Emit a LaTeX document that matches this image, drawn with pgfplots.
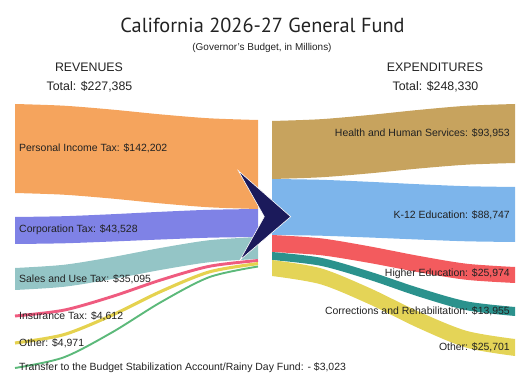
\documentclass[border=0pt]{standalone}
\usepackage{fontspec}
\setmainfont{Liberation Sans}
\newfontfamily\titlefont{PT Sans}
\usepackage{pgfplots}
\pgfplotsset{compat=1.18}
\usepgfplotslibrary{fillbetween}
\definecolor{cPIT}{HTML}{F5A45D}
\definecolor{cCorp}{HTML}{7F82E6}
\definecolor{cSales}{HTML}{94C5C6}
\definecolor{cIns}{HTML}{EF5B7F}
\definecolor{cOthR}{HTML}{E5D24F}
\definecolor{cTrans}{HTML}{5CB97A}
\definecolor{cHHS}{HTML}{C7A35E}
\definecolor{cK}{HTML}{7DB5EB}
\definecolor{cHigh}{HTML}{F35B5E}
\definecolor{cCorr}{HTML}{2B928D}
\definecolor{cOthE}{HTML}{E4D457}
\definecolor{cArrow}{HTML}{1B1A5B}
\definecolor{txt}{HTML}{222222}
\begin{document}
\begin{tikzpicture}
\begin{axis}[width=529bp, height=389bp, scale only axis,
  xmin=0, xmax=529, ymin=0, ymax=389, y dir=reverse,
  hide axis, clip=false]
\addplot[draw=none, forget plot] coordinates {(0,0) (529,389)};
% ---------- Revenues ----------
\addplot[draw=none, smooth, name path=pitT] coordinates {(15,104) (63.6,105.7) (112.2,109.6) (160.8,114.4) (209.4,118.3) (258,120)};
\addplot[draw=none, smooth, name path=pitB] coordinates {(15,193) (63.6,194.7) (112.2,198.6) (160.8,203.4) (209.4,207.3) (258,209)};
\addplot[fill=cPIT, draw=none] fill between[of=pitT and pitB];
\addplot[draw=none, smooth, name path=corT] coordinates {(15,217) (63.6,216.2) (112.2,214.2) (160.8,211.8) (209.4,209.8) (258,209)};
\addplot[draw=none, smooth, name path=corB] coordinates {(15,244) (63.6,243.3) (112.2,241.5) (160.8,239.5) (209.4,237.7) (258,237)};
\addplot[fill=cCorp, draw=none] fill between[of=corT and corB];
\addplot[draw=none, smooth, name path=salT] coordinates {(15,268) (63.6,264.8) (112.2,257.1) (160.8,247.9) (209.4,240.2) (258,237)};
\addplot[draw=none, smooth, name path=salB] coordinates {(15,290) (63.6,286.8) (112.2,279.1) (160.8,269.9) (209.4,262.2) (258,259)};
\addplot[fill=cSales, draw=none] fill between[of=salT and salB];
\addplot[cIns, line width=2.9bp, smooth] coordinates {(15,316) (63.6,310.2) (112.2,296.5) (160.8,280.0) (209.4,266.3) (258,260.5)};
\addplot[cOthR, line width=3.1bp, smooth] coordinates {(15,343) (63.6,334.7) (112.2,315.1) (160.8,291.5) (209.4,271.9) (258,263.6)};
\addplot[cTrans, line width=1.9bp, smooth] coordinates {(15,368) (63.6,357.4) (112.2,332.3) (160.8,302.2) (209.4,277.1) (258,266.5)};
% ---------- Expenditures ----------
\addplot[draw=none, smooth, name path=hhsT] coordinates {(272,121) (320.6,119.2) (369.2,115.0) (417.8,110.0) (466.4,105.8) (515,104)};
\addplot[draw=none, smooth, name path=hhsB] coordinates {(272,179) (320.6,177.3) (369.2,173.4) (417.8,168.6) (466.4,164.7) (515,163)};
\addplot[fill=cHHS, draw=none] fill between[of=hhsT and hhsB];
\addplot[draw=none, smooth, name path=kT] coordinates {(272,179) (320.6,179.8) (369.2,181.8) (417.8,184.2) (466.4,186.2) (515,187)};
\addplot[draw=none, smooth, name path=kB] coordinates {(272,235) (320.6,235.7) (369.2,237.5) (417.8,239.5) (466.4,241.3) (515,242)};
\addplot[fill=cK, draw=none] fill between[of=kT and kB];
\addplot[draw=none, smooth, name path=hiT] coordinates {(272,235) (320.6,238.3) (369.2,246.3) (417.8,255.7) (466.4,263.7) (515,267)};
\addplot[draw=none, smooth, name path=hiB] coordinates {(272,252) (320.6,255.2) (369.2,262.9) (417.8,272.1) (466.4,279.8) (515,283)};
\addplot[fill=cHigh, draw=none] fill between[of=hiT and hiB];
\addplot[draw=none, smooth, name path=crT] coordinates {(272,252) (320.6,257.7) (369.2,271.4) (417.8,287.6) (466.4,301.3) (515,307)};
\addplot[draw=none, smooth, name path=crB] coordinates {(272,260) (320.6,265.8) (369.2,279.7) (417.8,296.3) (466.4,310.2) (515,316)};
\addplot[fill=cCorr, draw=none] fill between[of=crT and crB];
\addplot[draw=none, smooth, name path=oeT] coordinates {(272,260) (320.6,268.2) (369.2,287.8) (417.8,311.2) (466.4,330.8) (515,339)};
\addplot[draw=none, smooth, name path=oeB] coordinates {(272,276) (320.6,284.3) (369.2,304.2) (417.8,327.8) (466.4,347.7) (515,356)};
\addplot[fill=cOthE, draw=none] fill between[of=oeT and oeB];
% ---------- Arrow ----------
\addplot[fill=cArrow, draw=white, line width=0.6bp] coordinates {(238.3,170.7) (290.7,216.7) (240,260) (264.3,216.7)} -- cycle;
% ---------- Texts ----------
\node[txt, font=\titlefont\fontsize{20.4}{24}\selectfont] at (axis cs:262.5,25) {California 2026-27 General Fund};
\node[txt, font=\fontsize{10}{12}\selectfont] at (axis cs:262,48) {(Governor's Budget, in Millions)};
\node[txt, font=\fontsize{12.4}{14}\selectfont] at (axis cs:89,67) {REVENUES};
\node[txt, font=\fontsize{12.4}{14}\selectfont] at (axis cs:89.5,87) {Total: \$227,385};
\node[txt, font=\fontsize{12.4}{14}\selectfont] at (axis cs:435,67) {EXPENDITURES};
\node[txt, font=\fontsize{12.4}{14}\selectfont] at (axis cs:435.5,87) {Total: \$248,330};
\tikzset{lab/.style={txt, font=\fontsize{10.5}{12}\selectfont, inner sep=0pt}}
\node[lab, anchor=west] at (axis cs:19,148) {Personal Income Tax: \$142,202};
\node[lab, anchor=west] at (axis cs:19,230) {Corporation Tax: \$43,528};
\node[lab, anchor=west] at (axis cs:19,279) {Sales and Use Tax: \$35,095};
\node[lab, anchor=west] at (axis cs:19,316) {Insurance Tax: \$4,612};
\node[lab, anchor=west] at (axis cs:19,343) {Other: \$4,971};
\node[lab, anchor=west] at (axis cs:19,368) {Transfer to the Budget Stabilization Account/Rainy Day Fund: - \$3,023};
\node[lab, anchor=east] at (axis cs:510,133) {Health and Human Services: \$93,953};
\node[lab, anchor=east] at (axis cs:510,215) {K-12 Education: \$88,747};
\node[lab, anchor=east] at (axis cs:510,274) {Higher Education: \$25,974};
\node[lab, anchor=east] at (axis cs:510,311) {Corrections and Rehabilitation: \$13,955};
\node[lab, anchor=east] at (axis cs:510,347) {Other: \$25,701};
\end{axis}
\end{tikzpicture}
\end{document}
